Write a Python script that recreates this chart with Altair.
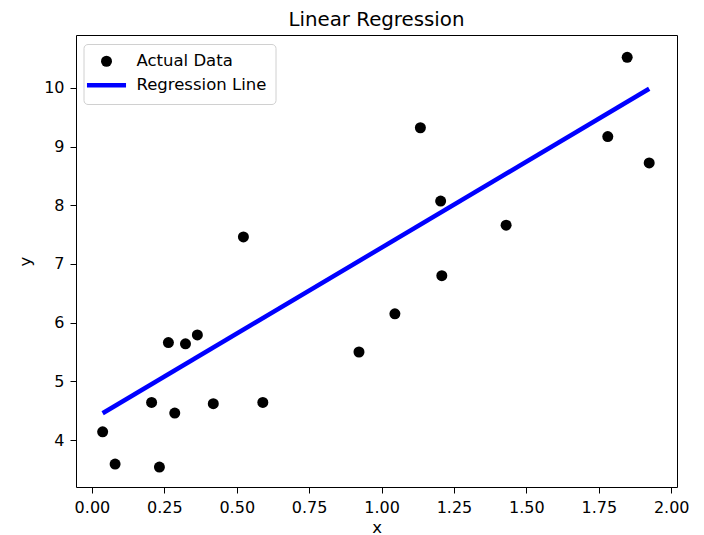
import altair as alt
import pandas as pd

# Data
x_data = [0.037, 0.080, 0.206, 0.233, 0.264, 0.286, 0.323, 0.364, 0.419, 0.523,
          0.590, 0.922, 1.046, 1.134, 1.204, 1.208, 1.430, 1.781, 1.848, 1.924]
y_data = [4.14, 3.59, 4.64, 3.54, 5.66, 4.46, 5.64, 5.79, 4.62, 7.46,
          4.64, 5.50, 6.15, 9.32, 8.07, 6.80, 7.66, 9.17, 10.52, 8.72]
line_x = [0.037, 1.924]
line_y = [4.456, 9.985]
series_names = ["Actual Data", "Regression Line"]
series_colors = ["black", "blue"]
x_ticks = [0, 0.25, 0.5, 0.75, 1.0, 1.25, 1.5, 1.75, 2.0]
y_ticks = [4, 5, 6, 7, 8, 9, 10]

pts = pd.DataFrame({"x": x_data, "y": y_data, "series": series_names[0]})
ln = pd.DataFrame({"x": line_x, "y": line_y, "series": series_names[1]})

FONT = "DejaVu Sans"
is_line = "datum.value === 'Regression Line'"

legend = alt.Legend(
    title=None,
    orient="none",
    legendX=7.5,
    legendY=9,
    padding=9,
    rowPadding=6,
    labelFont=FONT,
    labelFontSize=16.5,
    labelColor="black",
    labelOffset=21.7,
    symbolOffset=5.75,
    strokeColor="#d0d0d0",
    fillColor="white",
    cornerRadius=4,
    symbolOpacity=1,
    symbolSize=121,
    symbolType={"expr": f"{is_line} ? 'M-3.55,0H3.55' : 'circle'"},
    symbolStrokeWidth={"expr": f"{is_line} ? 4.5 : 0"},
)

color = alt.Color(
    "series:N",
    scale=alt.Scale(domain=series_names, range=series_colors),
    legend=legend,
)
xenc = alt.X(
    "x:Q",
    scale=alt.Scale(domain=[-0.055, 2.02], nice=False, zero=False),
    axis=alt.Axis(values=x_ticks, format=".2f", title="x"),
)
yenc = alt.Y(
    "y:Q",
    scale=alt.Scale(domain=[3.2, 10.9], nice=False, zero=False),
    axis=alt.Axis(values=y_ticks, format="d", title="y"),
)

points = alt.Chart(pts).mark_circle(size=121, opacity=1).encode(x=xenc, y=yenc, color=color)
line = alt.Chart(ln).mark_line(strokeWidth=4.5).encode(x=xenc, y=yenc, color=color)

chart = (
    alt.layer(points, line)
    .properties(
        width=601,
        height=452,
        title=alt.TitleParams(
            "Linear Regression",
            font=FONT,
            fontSize=19.8,
            fontWeight="normal",
            color="black",
            anchor="middle",
            frame="group",
            offset=5,
        ),
        autosize=alt.AutoSizeParams(type="none"),
        padding={"left": 68, "top": 27, "right": 19, "bottom": 48},
    )
    .configure_view(stroke="black", strokeWidth=1)
    .configure_axis(
        domain=False,
        grid=False,
        ticks=True,
        tickColor="black",
        tickSize=6,
        tickWidth=1,
        labelFont=FONT,
        labelFontSize=16,
        labelColor="black",
        labelPadding=6,
        titleFont=FONT,
        titleFontSize=16.5,
        titleFontWeight="normal",
        titleColor="black",
    )
    .configure_axisX(titlePadding=4)
    .configure_axisY(titlePadding=10)
)

chart.save("out.html", embed_options={"renderer": "svg", "actions": False})
